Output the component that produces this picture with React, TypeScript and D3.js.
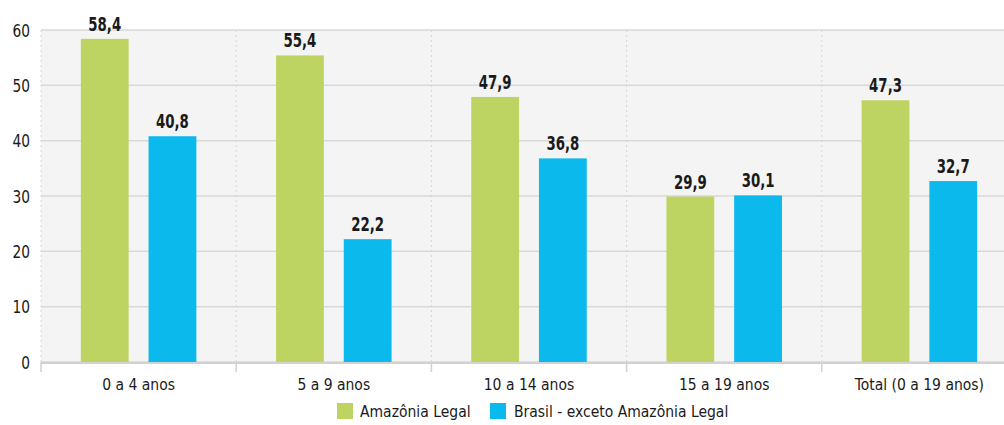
import React from "react";
import * as d3 from "d3";

const categories = ["0 a 4 anos", "5 a 9 anos", "10 a 14 anos", "15 a 19 anos", "Total (0 a 19 anos)"];
const seriesNames = ["Amazônia Legal", "Brasil - exceto Amazônia Legal"];
const amazonia = [58.4, 55.4, 47.9, 29.9, 47.3];
const brasil = [40.8, 22.2, 36.8, 30.1, 32.7];
const yTicks = [0, 10, 20, 30, 40, 50, 60];
const colors = ["#bed462", "#0cb9ed"];

const W = 1004, H = 425;
const left = 41, right = 1017, top = 30, bottom = 362;
const FONT = "'DejaVu Sans Condensed', 'DejaVu Sans', sans-serif";

export default function App() {
  const x = d3.scaleBand<string>().domain(categories).range([left, right]).paddingInner(0).paddingOuter(0);
  const inner = d3.scaleBand<string>().domain(seriesNames).range([0, x.bandwidth()]).paddingInner(0.294).paddingOuter(0.588);
  const y = d3.scaleLinear().domain([0, 60]).range([bottom, top]);
  const fmt = (v: number) => v.toFixed(1).replace(".", ",");
  const data = [amazonia, brasil];

  return (
    <svg width={W} height={H} style={{ position: "absolute", left: 0, top: 0, background: "#fff" }}>
      <rect x={left} y={top} width={right - left} height={bottom - top} fill="#f4f4f4" />
      {yTicks.map((t) => (
        <line key={"g" + t} x1={left} x2={right} y1={y(t)} y2={y(t)} stroke="#d9d9d9" strokeWidth={1.5} />
      ))}
      {categories.map((c, i) => (
        <line key={"v" + i} x1={x(c)!} x2={x(c)!} y1={top} y2={bottom} stroke="#d6d6d6" strokeWidth={1} strokeDasharray="2,3" />
      ))}
      {categories.map((c, i) =>
        data.map((s, j) => {
          const bx = x(c)! + inner(seriesNames[j])!;
          const bw = inner.bandwidth();
          const cx = bx + bw / 2;
          return (
            <g key={c + j}>
              <rect x={bx} y={y(s[i])} width={bw} height={y(0) - y(s[i])} fill={colors[j]} />
              <text transform={`translate(${cx},${y(s[i]) - 8}) scale(0.78,1)`} textAnchor="middle" fontFamily={FONT} fontWeight="bold" fontSize={19} fill="#1a1a1a">
                {fmt(s[i])}
              </text>
            </g>
          );
        })
      )}
      <line x1={left} x2={right} y1={bottom + 1} y2={bottom + 1} stroke="#d2d2d2" strokeWidth={2} />
      {categories.map((c, i) => (
        <line key={"t" + i} x1={x(c)!} x2={x(c)!} y1={bottom} y2={bottom + 10} stroke="#d2d2d2" strokeWidth={1.5} />
      ))}
      {yTicks.map((t) => (
        <text key={"yl" + t} transform={`translate(30,${y(t) + 6.5}) scale(0.85,1)`} textAnchor="end" fontFamily={FONT} fontSize={18} fill="#1a1a1a">
          {t}
        </text>
      ))}
      {categories.map((c) => (
        <text key={"xl" + c} x={x(c)! + x.bandwidth() / 2} y={390} textAnchor="middle" fontFamily={FONT} fontSize={15.5} fill="#1a1a1a">
          {c}
        </text>
      ))}
      <g>
        <rect x={337} y={403} width={16} height={16} fill={colors[0]} />
        <text x={360} y={417} fontFamily={FONT} fontSize={15.5} fill="#1a1a1a">{seriesNames[0]}</text>
        <rect x={490} y={403} width={16} height={16} fill={colors[1]} />
        <text x={514} y={417} fontFamily={FONT} fontSize={15.5} fill="#1a1a1a">{seriesNames[1]}</text>
      </g>
    </svg>
  );
}
